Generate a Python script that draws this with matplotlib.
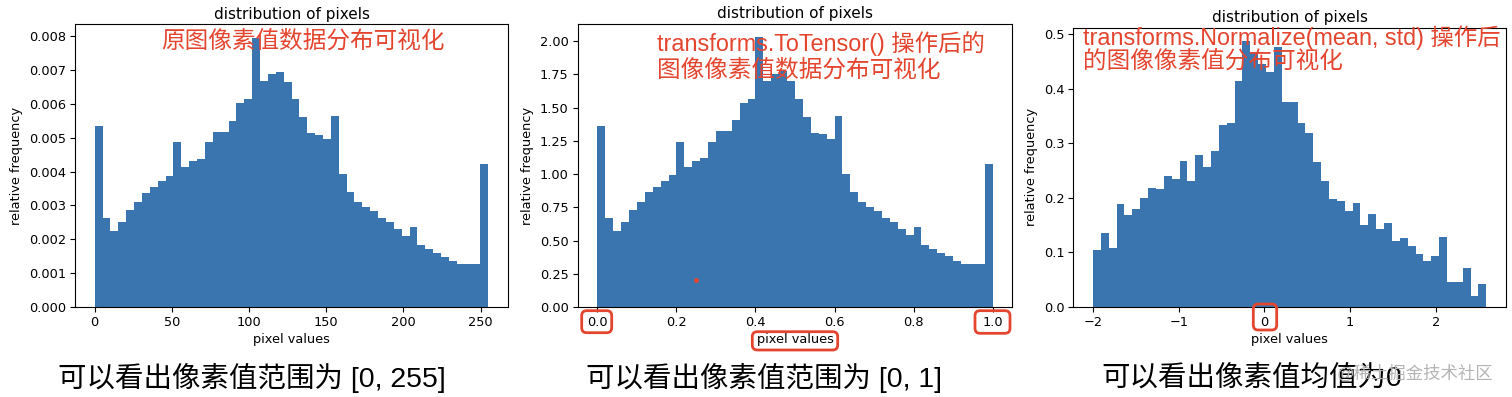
import numpy as np
import matplotlib
matplotlib.use("Agg")
import matplotlib.pyplot as plt
from matplotlib.patches import FancyBboxPatch
from matplotlib.transforms import IdentityTransform

W, H = 1512, 397

# 原图像素值 (0..255) 直方图, 50 bins, density
raw_freq = [5.35, 2.64, 2.23, 2.52, 2.87, 3.11, 3.38, 3.53, 3.72, 3.88,
            4.87, 4.12, 4.30, 4.38, 4.87, 5.18, 5.18, 5.50, 6.02, 6.15,
            7.95, 6.68, 6.88, 6.95, 6.65, 6.15, 5.61, 5.14, 5.09, 4.97,
            5.64, 3.92, 3.39, 3.11, 2.95, 2.84, 2.64, 2.50, 2.30, 2.11,
            2.35, 1.83, 1.72, 1.60, 1.49, 1.35, 1.27, 1.27, 1.27, 4.23]
raw_freq = [v / 1000 for v in raw_freq]
raw_range = (0, 255)

# ToTensor 之后 (0..1)
tensor_freq = [1.364, 0.673, 0.569, 0.643, 0.732, 0.793, 0.862, 0.900, 0.949, 0.989,
               1.242, 1.051, 1.097, 1.117, 1.242, 1.321, 1.321, 1.403, 1.535, 1.568,
               2.027, 1.703, 1.754, 1.772, 1.696, 1.568, 1.431, 1.311, 1.298, 1.267,
               1.438, 1.000, 0.864, 0.793, 0.752, 0.724, 0.673, 0.638, 0.587, 0.538,
               0.599, 0.467, 0.439, 0.408, 0.380, 0.344, 0.324, 0.324, 0.324, 1.079]
tensor_range = (0.0, 1.0)

# Normalize 之后
norm_freq = [0.104, 0.135, 0.108, 0.189, 0.168, 0.179, 0.200, 0.219, 0.217, 0.241,
             0.234, 0.267, 0.231, 0.278, 0.256, 0.286, 0.333, 0.337, 0.415, 0.488,
             0.467, 0.446, 0.432, 0.477, 0.377, 0.377, 0.338, 0.319, 0.266, 0.231,
             0.198, 0.195, 0.177, 0.191, 0.151, 0.170, 0.144, 0.154, 0.121, 0.127,
             0.111, 0.097, 0.085, 0.094, 0.129, 0.045, 0.045, 0.071, 0.021, 0.042]
norm_range = (-2.0, 2.588)

red_dot = (0.25, 0.20)

BAR = "#3b75af"
RED = "#e4452f"
MIX = ["Liberation Sans", "Noto Sans CJK SC"]


def px(x, y):
    # 像素坐标 (左上为原点) -> figure 坐标
    return x / W, 1 - y / H


def box(left, top, right, bottom):
    return [left / W, 1 - bottom / H, (right - left) / W, (bottom - top) / H]


def draw_hist(ax, freq, rng):
    edges = np.linspace(rng[0], rng[1], len(freq) + 1)
    ax.stairs(freq, edges, fill=True, color=BAR, linewidth=0)
    ax.set_title("distribution of pixels", fontsize=11, pad=4)
    ax.set_xlabel("pixel values", fontsize=9.3, labelpad=3)
    ax.set_ylabel("relative frequency", fontsize=9.3, labelpad=4)
    ax.tick_params(labelsize=9.3, length=3.5, pad=3)
    ax.margins(x=0.05, y=0.05)


def red_frame(fig, left, top, right, bottom):
    p = FancyBboxPatch((left, H - bottom), right - left, bottom - top,
                       boxstyle="round,pad=0,rounding_size=5",
                       transform=IdentityTransform(), fill=False,
                       edgecolor=RED, linewidth=2.0)
    fig.add_artist(p)


fig = plt.figure(figsize=(W / 100, H / 100), dpi=100)

ax1 = fig.add_axes(box(75, 24.3, 508, 307))
draw_hist(ax1, raw_freq, raw_range)

ax2 = fig.add_axes(box(577.7, 24, 1012.3, 307))
draw_hist(ax2, tensor_freq, tensor_range)
ax2.plot(*red_dot, "o", color=RED, ms=2.5)

ax3 = fig.add_axes(box(1073.3, 27.7, 1506, 307))
draw_hist(ax3, norm_freq, norm_range)

# 红色注释
fig.text(*px(161, 30), "原图像素值数据分布可视化", color=RED, fontsize=17,
         family=MIX, va="top", ha="left")
fig.text(*px(657, 31), "transforms.ToTensor() 操作后的", color=RED, fontsize=16.8,
         family=MIX, va="top", ha="left")
fig.text(*px(657, 59), "图像像素值数据分布可视化", color=RED, fontsize=17,
         family=MIX, va="top", ha="left")
fig.text(*px(1083, 25), "transforms.Normalize(mean, std) 操作后", color=RED, fontsize=16.8,
         family=MIX, va="top", ha="left")
fig.text(*px(1083, 51), "的图像像素值分布可视化", color=RED, fontsize=17,
         family=MIX, va="top", ha="left")

# 底部说明
fig.text(*px(58, 378), "可以看出像素值范围为 [0, 255]", fontsize=20.5,
         family=MIX, va="center", ha="left", color="black")
fig.text(*px(586, 378), "可以看出像素值范围为 [0, 1]", fontsize=20.5,
         family=MIX, va="center", ha="left", color="black")
fig.text(*px(1101, 378), "可以看出像素值均值为0", fontsize=20.5,
         family=MIX, va="center", ha="left", color="black")
fig.text(*px(1337, 373), "@稀土掘金技术社区", fontsize=12.5,
         family=MIX, va="center", ha="left", color="#b4b4b4")

# 红框
red_frame(fig, 581.7, 310.7, 611.7, 332.7)
red_frame(fig, 975, 310.7, 1010, 333.3)
red_frame(fig, 752.3, 331.7, 837.7, 350)
red_frame(fig, 1253.3, 304, 1276.7, 330)

fig.savefig("out.png", dpi=100)
